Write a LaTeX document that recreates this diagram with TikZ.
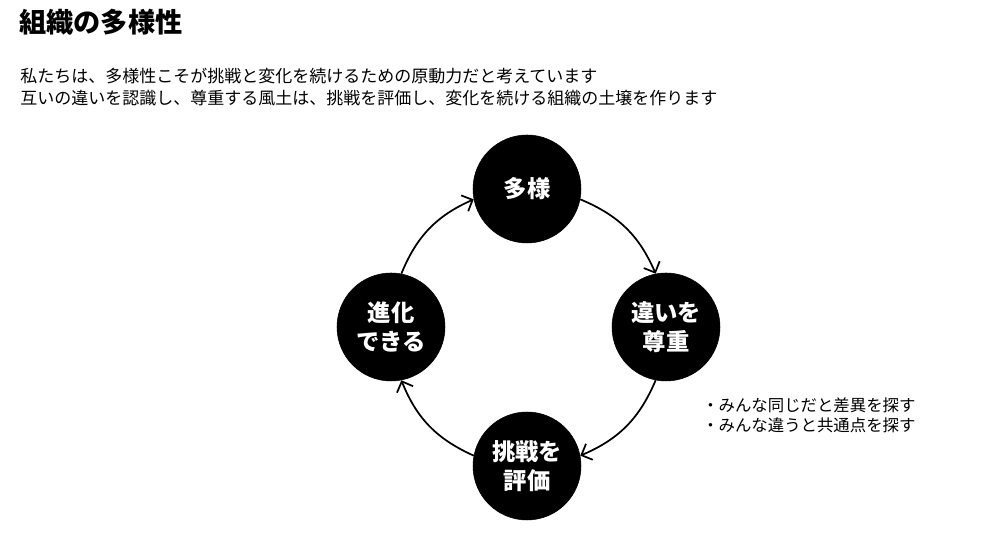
\documentclass[tikz,border=0pt]{standalone}
\usepackage{fontspec}
\newfontfamily\jp{Noto Sans CJK JP}
\usetikzlibrary{arrows.meta}
\begin{document}
\begin{tikzpicture}[x=0.75pt,y=0.75pt,
  bigcirc/.style={circle,fill=black,draw=black,minimum size=108*0.75pt,inner sep=0pt,text=white,font=\jp\bfseries\fontsize{17.5pt}{22pt}\selectfont,align=center},
  txt/.style={anchor=west,inner sep=0pt,font=\jp\fontsize{12.75pt}{15pt}\selectfont},
  cyc/.style={line width=1.3pt,-{Straight Barb[length=6.5pt,width=13pt,line width=1.3pt]},bend left=22}]
\useasboundingbox (0,0) rectangle (1000,534);
\node[anchor=west,inner sep=0pt,font=\jp\bfseries\fontsize{20.4pt}{24pt}\selectfont] (title) at (19,512) {組織の多様性};
\node[txt] (l1) at (20,458) {私たちは、多様性こそが挑戦と変化を続けるための原動力だと考えています};
\node[txt] (l2) at (20,436) {互いの違いを認識し、尊重する風土は、挑戦を評価し、変化を続ける組織の土壌を作ります};
\node[bigcirc] (T) at (527,345) {多様};
\node[bigcirc] (R) at (666,207) {違いを\\尊重};
\node[bigcirc] (B) at (527,68) {挑戦を\\評価};
\node[bigcirc] (L) at (391,207) {進化\\できる};
\draw[cyc] (T.-11) to (R.101);
\draw[cyc] (R.-101) to (B.11);
\draw[cyc] (B.169) to (L.-79);
\draw[cyc] (L.79) to (T.191);
\node[txt,font=\jp\fontsize{12.3pt}{15pt}\selectfont] (b1) at (702,129) {・みんな同じだと差異を探す};
\node[txt,font=\jp\fontsize{12.3pt}{15pt}\selectfont] (b2) at (702,109) {・みんな違うと共通点を探す};
\end{tikzpicture}
\end{document}
